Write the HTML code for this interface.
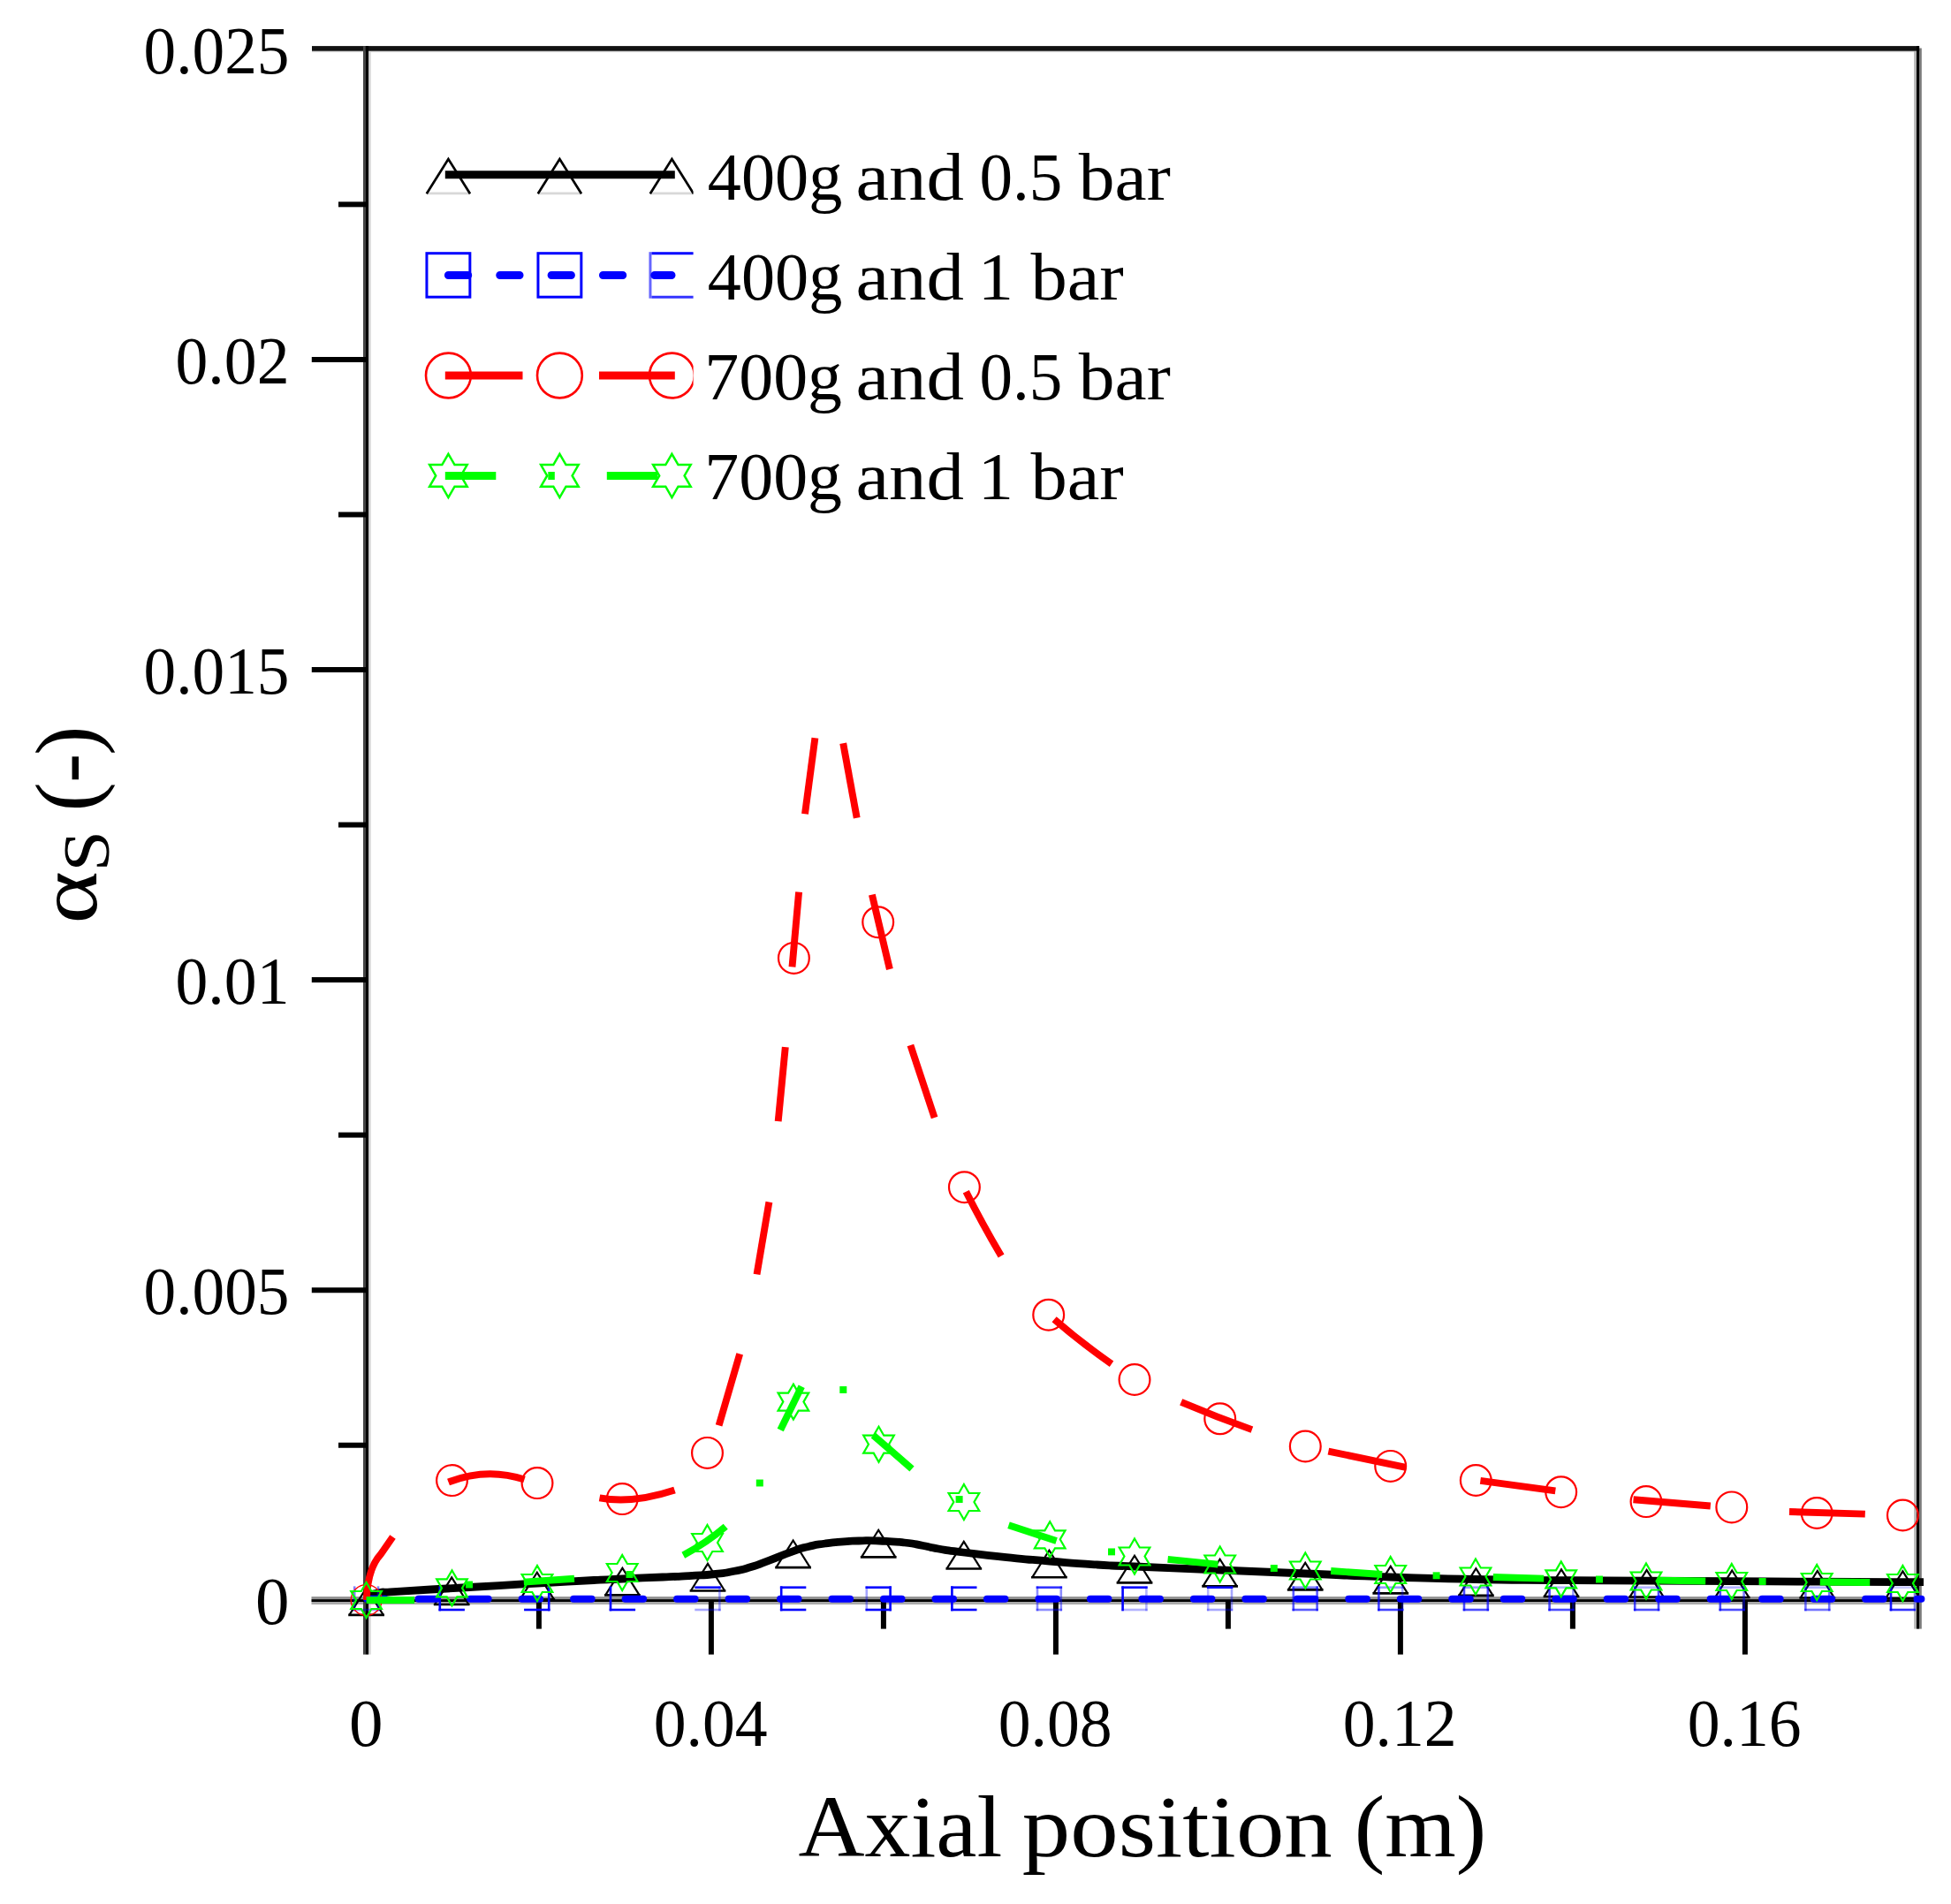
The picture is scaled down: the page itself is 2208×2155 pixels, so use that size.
<!DOCTYPE html>
<html lang="en"><head><meta charset="utf-8"><title>Solid volume fraction vs axial position</title>
<style>
html,body{margin:0;padding:0;background:#fff;}
body{width:2208px;height:2155px;overflow:hidden;}
svg{display:block;font-family:"Liberation Serif", "DejaVu Serif", serif;fill:#000;}
</style></head><body>
<svg width="2208" height="2155" viewBox="0 0 2208 2155">
<rect x="0" y="0" width="2208" height="2155" fill="#fff"/>
<rect x="417" y="52.2" width="2.7" height="1820.4" fill="#d4d4d4"/>
<rect x="353" y="57.4" width="1819" height="1.8" fill="#d8d8d8"/>
<rect x="2166.2" y="58" width="3" height="1785.6" fill="#b4b4b4"/>
<rect x="2171.8" y="54.5" width="3" height="1789.1" fill="#7a7a7a"/>
<rect x="352.5" y="1807.1" width="1819.5" height="3.1" fill="#909090"/>
<rect x="352.5" y="1812.9" width="1819.5" height="3.1" fill="#aaaaaa"/>
<rect x="353" y="52.1" width="1819.2" height="5.6" fill="#111"/>
<rect x="411" y="52.1" width="2.9" height="1820.5" fill="#444"/>
<rect x="413.8" y="52.1" width="3.3" height="1820.5" fill="#000"/>
<rect x="2169" y="52.1" width="3" height="1791.5" fill="#000"/>
<rect x="352.5" y="1810.1" width="1819.5" height="2.9" fill="#000"/>
<g stroke="#000" stroke-width="6" fill="none">
<line x1="383" y1="1635.75" x2="414.6" y2="1635.75"/>
<line x1="352.8" y1="1460.2" x2="414.6" y2="1460.2"/>
<line x1="383" y1="1284.65" x2="414.6" y2="1284.65"/>
<line x1="352.8" y1="1109.1" x2="414.6" y2="1109.1"/>
<line x1="383" y1="933.55" x2="414.6" y2="933.55"/>
<line x1="352.8" y1="758" x2="414.6" y2="758"/>
<line x1="383" y1="582.45" x2="414.6" y2="582.45"/>
<line x1="352.8" y1="406.9" x2="414.6" y2="406.9"/>
<line x1="383" y1="231.35" x2="414.6" y2="231.35"/>
<line x1="609.9" y1="1811" x2="609.9" y2="1843.6"/>
<line x1="804.9" y1="1811" x2="804.9" y2="1872.6"/>
<line x1="999.9" y1="1811" x2="999.9" y2="1843.6"/>
<line x1="1194.9" y1="1811" x2="1194.9" y2="1872.6"/>
<line x1="1389.9" y1="1811" x2="1389.9" y2="1843.6"/>
<line x1="1584.9" y1="1811" x2="1584.9" y2="1872.6"/>
<line x1="1779.9" y1="1811" x2="1779.9" y2="1843.6"/>
<line x1="1974.9" y1="1811" x2="1974.9" y2="1872.6"/>
</g>
<defs><clipPath id="lgclip"><rect x="470" y="150" width="314.6" height="450"/></clipPath></defs>
<g clip-path="url(#lgclip)">
<line x1="482.8" y1="218.8" x2="532" y2="218.8" stroke="#d8d8d8" stroke-width="2.7"/>
<polyline points="482.8,219.3 507.4,180.1 532,219.3" fill="none" stroke="#000" stroke-width="2.7" stroke-linejoin="miter" stroke-linecap="butt"/>
<line x1="608.8" y1="218.8" x2="658" y2="218.8" stroke="#d8d8d8" stroke-width="2.7"/>
<polyline points="608.8,219.3 633.4,180.1 658,219.3" fill="none" stroke="#000" stroke-width="2.7" stroke-linejoin="miter" stroke-linecap="butt"/>
<line x1="735.8" y1="218.8" x2="785" y2="218.8" stroke="#d8d8d8" stroke-width="2.7"/>
<polyline points="735.8,219.3 760.4,180.1 785,219.3" fill="none" stroke="#000" stroke-width="2.7" stroke-linejoin="miter" stroke-linecap="butt"/>
<line x1="503.8" y1="197.7" x2="763.8" y2="197.7" stroke="#000" stroke-width="9"/>
<rect x="482.95" y="286.7" width="48.9" height="49.5" fill="none" stroke="#0000ff" stroke-width="3"/>
<rect x="608.95" y="286.7" width="48.9" height="49.5" fill="none" stroke="#0000ff" stroke-width="3"/>
<line x1="735.95" y1="285.2" x2="735.95" y2="337.7" stroke="#0000ff" stroke-width="3" stroke-opacity="0.6"/>
<line x1="737.45" y1="286.7" x2="790" y2="286.7" stroke="#0000ff" stroke-width="3"/>
<line x1="737.45" y1="336.2" x2="790" y2="336.2" stroke="#0000ff" stroke-width="3" stroke-opacity="0.8"/>
<line x1="507.4" y1="311.5" x2="760.0" y2="311.5" stroke="#0000ff" stroke-width="9" stroke-dasharray="22.3 36.05" stroke-linecap="round"/>
<circle cx="507.4" cy="425" r="25.4" fill="none" stroke="#ff0000" stroke-width="2.6"/>
<circle cx="633.4" cy="425" r="25.4" fill="none" stroke="#ff0000" stroke-width="2.6"/>
<circle cx="760.4" cy="425" r="25.4" fill="none" stroke="#ff0000" stroke-width="2.6"/>
<line x1="503.8" y1="425" x2="763.8" y2="425" stroke="#ff0000" stroke-width="9" stroke-dasharray="87.7 86.5"/>
<polygon points="507.4,513.8 514.5,526.1 528.7,526.1 521.6,538.4 528.7,550.7 514.5,550.7 507.4,563 500.3,550.7 486.1,550.7 493.2,538.4 486.1,526.1 500.3,526.1" fill="none" stroke="#00ff00" stroke-width="2.5" stroke-linejoin="miter"/>
<polygon points="633.4,513.8 640.5,526.1 654.7,526.1 647.6,538.4 654.7,550.7 640.5,550.7 633.4,563 626.3,550.7 612.1,550.7 619.2,538.4 612.1,526.1 626.3,526.1" fill="none" stroke="#00ff00" stroke-width="2.5" stroke-linejoin="miter"/>
<polygon points="760.4,513.8 767.5,526.1 781.7,526.1 774.6,538.4 781.7,550.7 767.5,550.7 760.4,563 753.3,550.7 739.1,550.7 746.2,538.4 739.1,526.1 753.3,526.1" fill="none" stroke="#00ff00" stroke-width="2.5" stroke-linejoin="miter"/>
<line x1="503.8" y1="538.4" x2="763.8" y2="538.4" stroke="#00ff00" stroke-width="9" stroke-dasharray="57.5 59 7.5 59"/>
</g>
<text y="226.2" font-size="76"><tspan x="800.8" textLength="152.5" lengthAdjust="spacingAndGlyphs">400g</tspan> <tspan x="968.4" textLength="122.7" lengthAdjust="spacingAndGlyphs">and</tspan> <tspan x="1108.4" textLength="93.9" lengthAdjust="spacingAndGlyphs">0.5</tspan> <tspan x="1220.8" textLength="104" lengthAdjust="spacingAndGlyphs">bar</tspan></text>
<text y="338.7" font-size="76"><tspan x="800.8" textLength="152.5" lengthAdjust="spacingAndGlyphs">400g</tspan> <tspan x="968.4" textLength="122.7" lengthAdjust="spacingAndGlyphs">and</tspan> <tspan x="1106.8" textLength="40.3" lengthAdjust="spacingAndGlyphs">1</tspan> <tspan x="1166.4" textLength="105.4" lengthAdjust="spacingAndGlyphs">bar</tspan></text>
<text y="451.6" font-size="76"><tspan x="797.2" textLength="155.9" lengthAdjust="spacingAndGlyphs">700g</tspan> <tspan x="968.4" textLength="122.7" lengthAdjust="spacingAndGlyphs">and</tspan> <tspan x="1108.4" textLength="93.9" lengthAdjust="spacingAndGlyphs">0.5</tspan> <tspan x="1220.8" textLength="104" lengthAdjust="spacingAndGlyphs">bar</tspan></text>
<text y="564.6" font-size="76"><tspan x="797.2" textLength="155.9" lengthAdjust="spacingAndGlyphs">700g</tspan> <tspan x="968.4" textLength="122.7" lengthAdjust="spacingAndGlyphs">and</tspan> <tspan x="1106.8" textLength="40.3" lengthAdjust="spacingAndGlyphs">1</tspan> <tspan x="1166.4" textLength="105.4" lengthAdjust="spacingAndGlyphs">bar</tspan></text>
<path d="M414.6,1806 C420.07,1804.77 422.03,1803.7 431,1802.3 C439.97,1800.9 422.6,1802.9 441.5,1801.8 C460.4,1800.7 446.67,1801.4 487.7,1799 C528.73,1796.6 524.5,1796.93 564.6,1794.6 C604.7,1792.27 572.2,1794.03 608,1792 C643.8,1789.97 640,1790.17 672,1788.5 C704,1786.83 678,1788.17 704,1787 C730,1785.83 724.67,1786.13 750,1785 C775.33,1783.87 760,1784.77 780,1783.6 C800,1782.43 793,1783.3 810,1781.5 C827,1779.7 817.67,1780.87 831,1778.2 C844.33,1775.53 837,1777.47 850,1773.5 C863,1769.53 854,1772.27 870,1766.3 C886,1760.33 883,1760.87 898,1755.6 C913,1750.33 903,1753.37 915,1750.5 C927,1747.63 920.67,1748.9 934,1747 C947.33,1745.1 942.33,1745.8 955,1744.8 C967.67,1743.8 958.67,1744.27 972,1744 C985.33,1743.73 977.8,1743.33 995,1744 C1012.2,1744.67 1006.93,1744.17 1023.6,1746 C1040.27,1747.83 1032.2,1747.17 1045,1749.5 C1057.8,1751.83 1047,1750.5 1062,1753 C1077,1755.5 1064.33,1753.8 1090,1757 C1115.67,1760.2 1106.43,1759.27 1139,1762.6 C1171.57,1765.93 1153.53,1764.2 1187.7,1767 C1221.87,1769.8 1209.4,1769 1241.5,1771 C1273.6,1773 1237.6,1771 1284,1773 C1330.4,1775 1316.37,1774.33 1380.7,1777 C1445.03,1779.67 1412.67,1778.33 1477,1781 C1541.33,1783.67 1509.37,1782.83 1573.7,1785 C1638.03,1787.17 1605.57,1786.3 1670,1787.5 C1734.43,1788.7 1702.67,1788.03 1767,1788.6 C1831.33,1789.17 1798.67,1788.83 1863,1789.2 C1927.33,1789.57 1895.67,1789.37 1960,1789.7 C2024.33,1790.03 1983.67,1789.87 2056,1790.2 C2128.33,1790.53 2136.67,1790.53 2177,1790.7" fill="none" stroke="#000" stroke-width="8.8" stroke-linejoin="round"/>
<polyline points="395.41,1827.85 414.6,1797.27 433.79,1827.85" fill="none" stroke="#000" stroke-width="2.2" stroke-linejoin="miter" stroke-linecap="butt"/>
<line x1="394.21" y1="1827.85" x2="434.99" y2="1827.85" stroke="#000" stroke-width="2.6"/>
<polyline points="492.01,1816 511.2,1785.43 530.39,1816" fill="none" stroke="#000" stroke-width="2.2" stroke-linejoin="miter" stroke-linecap="butt"/>
<line x1="490.81" y1="1816" x2="531.59" y2="1816" stroke="#000" stroke-width="2.6"/>
<polyline points="588.61,1810.36 607.8,1779.78 626.99,1810.36" fill="none" stroke="#000" stroke-width="2.2" stroke-linejoin="miter" stroke-linecap="butt"/>
<line x1="587.41" y1="1810.36" x2="628.19" y2="1810.36" stroke="#000" stroke-width="2.6"/>
<polyline points="685.21,1805.33 704.4,1774.75 723.59,1805.33" fill="none" stroke="#000" stroke-width="2.2" stroke-linejoin="miter" stroke-linecap="butt"/>
<line x1="684.01" y1="1805.33" x2="724.79" y2="1805.33" stroke="#000" stroke-width="2.6"/>
<polyline points="781.81,1800.48 801,1769.9 820.19,1800.48" fill="none" stroke="#000" stroke-width="2.2" stroke-linejoin="miter" stroke-linecap="butt"/>
<line x1="780.61" y1="1800.48" x2="821.39" y2="1800.48" stroke="#000" stroke-width="2.6"/>
<polyline points="878.41,1774.1 897.6,1743.52 916.79,1774.1" fill="none" stroke="#000" stroke-width="2.2" stroke-linejoin="miter" stroke-linecap="butt"/>
<line x1="877.21" y1="1774.1" x2="917.99" y2="1774.1" stroke="#000" stroke-width="2.6"/>
<polyline points="975.01,1762.35 994.2,1731.77 1013.39,1762.35" fill="none" stroke="#000" stroke-width="2.2" stroke-linejoin="miter" stroke-linecap="butt"/>
<line x1="973.81" y1="1762.35" x2="1014.59" y2="1762.35" stroke="#000" stroke-width="2.6"/>
<polyline points="1071.61,1775.44 1090.8,1744.86 1109.99,1775.44" fill="none" stroke="#000" stroke-width="2.2" stroke-linejoin="miter" stroke-linecap="butt"/>
<line x1="1070.41" y1="1775.44" x2="1111.19" y2="1775.44" stroke="#000" stroke-width="2.6"/>
<polyline points="1168.21,1785.32 1187.4,1754.74 1206.59,1785.32" fill="none" stroke="#000" stroke-width="2.2" stroke-linejoin="miter" stroke-linecap="butt"/>
<line x1="1167.01" y1="1785.32" x2="1207.79" y2="1785.32" stroke="#000" stroke-width="2.6"/>
<polyline points="1264.81,1791.35 1284,1760.77 1303.19,1791.35" fill="none" stroke="#000" stroke-width="2.2" stroke-linejoin="miter" stroke-linecap="butt"/>
<line x1="1263.61" y1="1791.35" x2="1304.39" y2="1791.35" stroke="#000" stroke-width="2.6"/>
<polyline points="1361.41,1795.34 1380.6,1764.77 1399.79,1795.34" fill="none" stroke="#000" stroke-width="2.2" stroke-linejoin="miter" stroke-linecap="butt"/>
<line x1="1360.21" y1="1795.34" x2="1400.99" y2="1795.34" stroke="#000" stroke-width="2.6"/>
<polyline points="1458.01,1799.36 1477.2,1768.78 1496.39,1799.36" fill="none" stroke="#000" stroke-width="2.2" stroke-linejoin="miter" stroke-linecap="butt"/>
<line x1="1456.81" y1="1799.36" x2="1497.59" y2="1799.36" stroke="#000" stroke-width="2.6"/>
<polyline points="1554.61,1803.35 1573.8,1772.77 1592.99,1803.35" fill="none" stroke="#000" stroke-width="2.2" stroke-linejoin="miter" stroke-linecap="butt"/>
<line x1="1553.41" y1="1803.35" x2="1594.19" y2="1803.35" stroke="#000" stroke-width="2.6"/>
<polyline points="1651.21,1805.85 1670.4,1775.28 1689.59,1805.85" fill="none" stroke="#000" stroke-width="2.2" stroke-linejoin="miter" stroke-linecap="butt"/>
<line x1="1650.01" y1="1805.85" x2="1690.79" y2="1805.85" stroke="#000" stroke-width="2.6"/>
<polyline points="1747.81,1806.95 1767,1776.37 1786.19,1806.95" fill="none" stroke="#000" stroke-width="2.2" stroke-linejoin="miter" stroke-linecap="butt"/>
<line x1="1746.61" y1="1806.95" x2="1787.39" y2="1806.95" stroke="#000" stroke-width="2.6"/>
<polyline points="1844.41,1807.55 1863.6,1776.98 1882.79,1807.55" fill="none" stroke="#000" stroke-width="2.2" stroke-linejoin="miter" stroke-linecap="butt"/>
<line x1="1843.21" y1="1807.55" x2="1883.99" y2="1807.55" stroke="#000" stroke-width="2.6"/>
<polyline points="1941.01,1808.05 1960.2,1777.47 1979.39,1808.05" fill="none" stroke="#000" stroke-width="2.2" stroke-linejoin="miter" stroke-linecap="butt"/>
<line x1="1939.81" y1="1808.05" x2="1980.59" y2="1808.05" stroke="#000" stroke-width="2.6"/>
<polyline points="2037.61,1808.55 2056.8,1777.98 2075.99,1808.55" fill="none" stroke="#000" stroke-width="2.2" stroke-linejoin="miter" stroke-linecap="butt"/>
<line x1="2036.41" y1="1808.55" x2="2077.19" y2="1808.55" stroke="#000" stroke-width="2.6"/>
<polyline points="2134.21,1808.95 2153.4,1778.37 2172.59,1808.95" fill="none" stroke="#000" stroke-width="2.2" stroke-linejoin="miter" stroke-linecap="butt"/>
<line x1="2133.01" y1="1808.95" x2="2173.79" y2="1808.95" stroke="#000" stroke-width="2.6"/>
<line x1="415.2" y1="1809.8" x2="2174.4" y2="1809.8" stroke="#0000ff" stroke-width="8" stroke-dasharray="20.5 37.98" stroke-linecap="round"/>
<line x1="401.2" y1="1796.7" x2="401.2" y2="1822" stroke="#0000ff" stroke-width="2.6" stroke-opacity="0.5" stroke-linecap="square"/>
<line x1="428" y1="1796.7" x2="428" y2="1822" stroke="#0000ff" stroke-width="2.6" stroke-opacity="0.5" stroke-linecap="square"/>
<line x1="401.2" y1="1822" x2="428" y2="1822" stroke="#0000ff" stroke-width="2.6" stroke-opacity="0.4" stroke-linecap="square"/>
<line x1="497.8" y1="1796.7" x2="497.8" y2="1822" stroke="#0000ff" stroke-width="2.6" stroke-opacity="1" stroke-linecap="square"/>
<line x1="497.8" y1="1822" x2="524.6" y2="1822" stroke="#0000ff" stroke-width="2.6" stroke-opacity="1" stroke-linecap="square"/>
<line x1="621.2" y1="1796.7" x2="621.2" y2="1822" stroke="#0000ff" stroke-width="2.6" stroke-opacity="1" stroke-linecap="square"/>
<line x1="594.4" y1="1822" x2="621.2" y2="1822" stroke="#0000ff" stroke-width="2.6" stroke-opacity="1" stroke-linecap="square"/>
<line x1="691" y1="1796.7" x2="691" y2="1822" stroke="#0000ff" stroke-width="2.6" stroke-opacity="1" stroke-linecap="square"/>
<line x1="691" y1="1822" x2="717.8" y2="1822" stroke="#0000ff" stroke-width="2.6" stroke-opacity="1" stroke-linecap="square"/>
<line x1="787.6" y1="1796.7" x2="814.4" y2="1796.7" stroke="#0000ff" stroke-width="2.6" stroke-opacity="1" stroke-linecap="square"/>
<line x1="814.4" y1="1796.7" x2="814.4" y2="1822" stroke="#0000ff" stroke-width="2.6" stroke-opacity="0.35" stroke-linecap="square"/>
<line x1="787.6" y1="1822" x2="814.4" y2="1822" stroke="#0000ff" stroke-width="2.6" stroke-opacity="0.35" stroke-linecap="square"/>
<line x1="884.2" y1="1796.7" x2="884.2" y2="1822" stroke="#0000ff" stroke-width="2.6" stroke-opacity="1" stroke-linecap="square"/>
<line x1="884.2" y1="1796.7" x2="911" y2="1796.7" stroke="#0000ff" stroke-width="2.6" stroke-opacity="1" stroke-linecap="square"/>
<line x1="884.2" y1="1822" x2="911" y2="1822" stroke="#0000ff" stroke-width="2.6" stroke-opacity="1" stroke-linecap="square"/>
<line x1="980.8" y1="1796.7" x2="980.8" y2="1822" stroke="#0000ff" stroke-width="2.6" stroke-opacity="0.35" stroke-linecap="square"/>
<line x1="980.8" y1="1796.7" x2="1007.6" y2="1796.7" stroke="#0000ff" stroke-width="2.6" stroke-opacity="1" stroke-linecap="square"/>
<line x1="1007.6" y1="1796.7" x2="1007.6" y2="1822" stroke="#0000ff" stroke-width="2.6" stroke-opacity="1" stroke-linecap="square"/>
<line x1="980.8" y1="1822" x2="1007.6" y2="1822" stroke="#0000ff" stroke-width="2.6" stroke-opacity="1" stroke-linecap="square"/>
<line x1="1077.4" y1="1796.7" x2="1077.4" y2="1822" stroke="#0000ff" stroke-width="2.6" stroke-opacity="1" stroke-linecap="square"/>
<line x1="1077.4" y1="1796.7" x2="1104.2" y2="1796.7" stroke="#0000ff" stroke-width="2.6" stroke-opacity="1" stroke-linecap="square"/>
<line x1="1077.4" y1="1822" x2="1104.2" y2="1822" stroke="#0000ff" stroke-width="2.6" stroke-opacity="1" stroke-linecap="square"/>
<line x1="1174" y1="1796.7" x2="1174" y2="1822" stroke="#0000ff" stroke-width="2.6" stroke-opacity="0.45" stroke-linecap="square"/>
<line x1="1174" y1="1796.7" x2="1200.8" y2="1796.7" stroke="#0000ff" stroke-width="2.6" stroke-opacity="0.8" stroke-linecap="square"/>
<line x1="1200.8" y1="1796.7" x2="1200.8" y2="1822" stroke="#0000ff" stroke-width="2.6" stroke-opacity="0.45" stroke-linecap="square"/>
<line x1="1174" y1="1822" x2="1200.8" y2="1822" stroke="#0000ff" stroke-width="2.6" stroke-opacity="0.45" stroke-linecap="square"/>
<line x1="1270.6" y1="1796.7" x2="1270.6" y2="1822" stroke="#0000ff" stroke-width="2.6" stroke-opacity="1" stroke-linecap="square"/>
<line x1="1270.6" y1="1796.7" x2="1297.4" y2="1796.7" stroke="#0000ff" stroke-width="2.6" stroke-opacity="1" stroke-linecap="square"/>
<line x1="1297.4" y1="1796.7" x2="1297.4" y2="1822" stroke="#0000ff" stroke-width="2.6" stroke-opacity="0.3" stroke-linecap="square"/>
<line x1="1270.6" y1="1822" x2="1297.4" y2="1822" stroke="#0000ff" stroke-width="2.6" stroke-opacity="0.3" stroke-linecap="square"/>
<line x1="1367.2" y1="1796.7" x2="1367.2" y2="1822" stroke="#0000ff" stroke-width="2.6" stroke-opacity="0.3" stroke-linecap="square"/>
<line x1="1367.2" y1="1796.7" x2="1394" y2="1796.7" stroke="#0000ff" stroke-width="2.6" stroke-opacity="1" stroke-linecap="square"/>
<line x1="1394" y1="1796.7" x2="1394" y2="1822" stroke="#0000ff" stroke-width="2.6" stroke-opacity="0.35" stroke-linecap="square"/>
<line x1="1367.2" y1="1822" x2="1394" y2="1822" stroke="#0000ff" stroke-width="2.6" stroke-opacity="0.35" stroke-linecap="square"/>
<line x1="1463.8" y1="1796.7" x2="1463.8" y2="1822" stroke="#0000ff" stroke-width="2.6" stroke-opacity="0.65" stroke-linecap="square"/>
<line x1="1463.8" y1="1796.7" x2="1490.6" y2="1796.7" stroke="#0000ff" stroke-width="2.6" stroke-opacity="0.5" stroke-linecap="square"/>
<line x1="1490.6" y1="1796.7" x2="1490.6" y2="1822" stroke="#0000ff" stroke-width="2.6" stroke-opacity="0.65" stroke-linecap="square"/>
<line x1="1463.8" y1="1822" x2="1490.6" y2="1822" stroke="#0000ff" stroke-width="2.6" stroke-opacity="0.65" stroke-linecap="square"/>
<line x1="1560.4" y1="1796.7" x2="1560.4" y2="1822" stroke="#0000ff" stroke-width="2.6" stroke-opacity="0.75" stroke-linecap="square"/>
<line x1="1560.4" y1="1796.7" x2="1587.2" y2="1796.7" stroke="#0000ff" stroke-width="2.6" stroke-opacity="0.4" stroke-linecap="square"/>
<line x1="1587.2" y1="1796.7" x2="1587.2" y2="1822" stroke="#0000ff" stroke-width="2.6" stroke-opacity="0.35" stroke-linecap="square"/>
<line x1="1560.4" y1="1822" x2="1587.2" y2="1822" stroke="#0000ff" stroke-width="2.6" stroke-opacity="0.75" stroke-linecap="square"/>
<line x1="1657" y1="1796.7" x2="1657" y2="1822" stroke="#0000ff" stroke-width="2.6" stroke-opacity="0.7" stroke-linecap="square"/>
<line x1="1657" y1="1796.7" x2="1683.8" y2="1796.7" stroke="#0000ff" stroke-width="2.6" stroke-opacity="0.4" stroke-linecap="square"/>
<line x1="1683.8" y1="1796.7" x2="1683.8" y2="1822" stroke="#0000ff" stroke-width="2.6" stroke-opacity="0.7" stroke-linecap="square"/>
<line x1="1657" y1="1822" x2="1683.8" y2="1822" stroke="#0000ff" stroke-width="2.6" stroke-opacity="0.7" stroke-linecap="square"/>
<line x1="1753.6" y1="1796.7" x2="1753.6" y2="1822" stroke="#0000ff" stroke-width="2.6" stroke-opacity="0.7" stroke-linecap="square"/>
<line x1="1753.6" y1="1796.7" x2="1780.4" y2="1796.7" stroke="#0000ff" stroke-width="2.6" stroke-opacity="0.3" stroke-linecap="square"/>
<line x1="1780.4" y1="1796.7" x2="1780.4" y2="1822" stroke="#0000ff" stroke-width="2.6" stroke-opacity="0.4" stroke-linecap="square"/>
<line x1="1753.6" y1="1822" x2="1780.4" y2="1822" stroke="#0000ff" stroke-width="2.6" stroke-opacity="0.7" stroke-linecap="square"/>
<line x1="1850.2" y1="1796.7" x2="1850.2" y2="1822" stroke="#0000ff" stroke-width="2.6" stroke-opacity="0.7" stroke-linecap="square"/>
<line x1="1850.2" y1="1796.7" x2="1877" y2="1796.7" stroke="#0000ff" stroke-width="2.6" stroke-opacity="0.3" stroke-linecap="square"/>
<line x1="1877" y1="1796.7" x2="1877" y2="1822" stroke="#0000ff" stroke-width="2.6" stroke-opacity="0.7" stroke-linecap="square"/>
<line x1="1850.2" y1="1822" x2="1877" y2="1822" stroke="#0000ff" stroke-width="2.6" stroke-opacity="0.7" stroke-linecap="square"/>
<line x1="1946.8" y1="1796.7" x2="1946.8" y2="1822" stroke="#0000ff" stroke-width="2.6" stroke-opacity="0.7" stroke-linecap="square"/>
<line x1="1946.8" y1="1796.7" x2="1973.6" y2="1796.7" stroke="#0000ff" stroke-width="2.6" stroke-opacity="0.3" stroke-linecap="square"/>
<line x1="1973.6" y1="1796.7" x2="1973.6" y2="1822" stroke="#0000ff" stroke-width="2.6" stroke-opacity="0.5" stroke-linecap="square"/>
<line x1="1946.8" y1="1822" x2="1973.6" y2="1822" stroke="#0000ff" stroke-width="2.6" stroke-opacity="0.7" stroke-linecap="square"/>
<line x1="2043.4" y1="1796.7" x2="2043.4" y2="1822" stroke="#0000ff" stroke-width="2.6" stroke-opacity="0.55" stroke-linecap="square"/>
<line x1="2043.4" y1="1796.7" x2="2070.2" y2="1796.7" stroke="#0000ff" stroke-width="2.6" stroke-opacity="0.3" stroke-linecap="square"/>
<line x1="2070.2" y1="1796.7" x2="2070.2" y2="1822" stroke="#0000ff" stroke-width="2.6" stroke-opacity="0.55" stroke-linecap="square"/>
<line x1="2043.4" y1="1822" x2="2070.2" y2="1822" stroke="#0000ff" stroke-width="2.6" stroke-opacity="0.55" stroke-linecap="square"/>
<line x1="2140" y1="1796.7" x2="2140" y2="1822" stroke="#0000ff" stroke-width="2.6" stroke-opacity="0.9" stroke-linecap="square"/>
<line x1="2140" y1="1796.7" x2="2166.8" y2="1796.7" stroke="#0000ff" stroke-width="2.6" stroke-opacity="0.2" stroke-linecap="square"/>
<line x1="2166.8" y1="1796.7" x2="2166.8" y2="1822" stroke="#0000ff" stroke-width="2.6" stroke-opacity="0.3" stroke-linecap="square"/>
<line x1="2140" y1="1822" x2="2166.8" y2="1822" stroke="#0000ff" stroke-width="2.6" stroke-opacity="0.8" stroke-linecap="square"/>
<g fill="none" stroke="#ff0000" stroke-width="7.9" stroke-linecap="butt">
<path d="M414.8,1811 C415.5,1790 419,1772 431,1759 L444.5,1739.5"/>
<path d="M507.5,1677.5 Q551,1660.5 593.5,1674.6"/>
<path d="M678.5,1695.4 Q716,1702.4 763.5,1686.6"/>
<path d="M813.6,1613.4 L837.2,1532.4"/>
<path d="M856.5,1442.3 L870.4,1360.5"/>
<path d="M880.7,1269.2 L888.8,1185.2"/>
<path d="M896.5,1094.3 L904.1,1009.7"/>
<path d="M911,921.2 L922.4,835.2"/>
<path d="M954.2,841.2 L969.7,925.8"/>
<path d="M986.9,1012.7 L1006.9,1097"/>
<path d="M1030.4,1183.1 L1057.6,1265.1"/>
<path d="M1093.3,1348.7 Q1111,1384 1133.1,1421.5"/>
<path d="M1193.1,1493.2 Q1224,1520 1258,1543.7"/>
<path d="M1336.7,1586.9 Q1377,1604 1416.9,1618.1"/>
<path d="M1503.4,1642.6 L1591.1,1660.8"/>
<path d="M1675.4,1675.9 L1760.3,1687.3"/>
<path d="M1848.5,1697.3 L1935.8,1704.5"/>
<path d="M2025,1711 L2110.8,1713.6"/>
</g>
<circle cx="414.6" cy="1811" r="17.4" fill="none" stroke="#ff0000" stroke-width="1.4"/>
<circle cx="511.5" cy="1675.6" r="17.4" fill="none" stroke="#ff0000" stroke-width="2.2"/>
<circle cx="608" cy="1678.6" r="17.4" fill="none" stroke="#ff0000" stroke-width="2.2"/>
<circle cx="704.2" cy="1696.6" r="17.4" fill="none" stroke="#ff0000" stroke-width="2.2"/>
<circle cx="800.5" cy="1644.4" r="17.4" fill="none" stroke="#ff0000" stroke-width="2.2"/>
<circle cx="898.4" cy="1084.4" r="17.4" fill="none" stroke="#ff0000" stroke-width="2.2"/>
<circle cx="993.7" cy="1043.7" r="17.4" fill="none" stroke="#ff0000" stroke-width="2.2"/>
<circle cx="1091.4" cy="1343.7" r="17.4" fill="none" stroke="#ff0000" stroke-width="2.2"/>
<circle cx="1186.7" cy="1488.2" r="17.4" fill="none" stroke="#ff0000" stroke-width="2.2"/>
<circle cx="1284" cy="1561.5" r="17.4" fill="none" stroke="#ff0000" stroke-width="2.2"/>
<circle cx="1380.7" cy="1605.8" r="17.4" fill="none" stroke="#ff0000" stroke-width="2.2"/>
<circle cx="1477.3" cy="1637" r="17.4" fill="none" stroke="#ff0000" stroke-width="2.2"/>
<circle cx="1573.7" cy="1659.4" r="17.4" fill="none" stroke="#ff0000" stroke-width="2.2"/>
<circle cx="1670.3" cy="1675.5" r="17.4" fill="none" stroke="#ff0000" stroke-width="2.2"/>
<circle cx="1766.7" cy="1688.7" r="17.4" fill="none" stroke="#ff0000" stroke-width="2.2"/>
<circle cx="1863" cy="1699.6" r="17.4" fill="none" stroke="#ff0000" stroke-width="2.2"/>
<circle cx="1959.8" cy="1705.9" r="17.4" fill="none" stroke="#ff0000" stroke-width="2.2"/>
<circle cx="2056.2" cy="1712.5" r="17.4" fill="none" stroke="#ff0000" stroke-width="2.2"/>
<circle cx="2153.4" cy="1715" r="17.4" fill="none" stroke="#ff0000" stroke-width="2.2"/>
<g fill="none" stroke="#00ff00" stroke-width="7.9" stroke-linecap="butt">
<path d="M414.6,1811 L469,1811"/>
<path d="M592.8,1790.6 L650,1786.8"/>
<path d="M773.3,1760.3 Q800,1746 821.2,1727.8"/>
<path d="M883.2,1618.4 L907.2,1569.2"/>
<path d="M988.3,1624.4 L1032,1662.5"/>
<path d="M1141.5,1726.3 L1195.6,1744"/>
<path d="M1321.6,1764.9 L1378.5,1770.6"/>
<path d="M1506.2,1778 L1564.2,1782"/>
<path d="M1689.8,1785 L1747.2,1786.6"/>
<path d="M1875.8,1788.6 L1930.2,1789.5"/>
<path d="M2059.8,1790.5 L2116.2,1791"/>
</g>
<rect x="527" y="1789.55" width="8" height="7.9" fill="#00ff00" transform="rotate(0 531 1793.5)"/>
<rect x="708.5" y="1778.05" width="8" height="7.9" fill="#00ff00" transform="rotate(0 712.5 1782)"/>
<rect x="855.8" y="1674.55" width="8" height="7.9" fill="#00ff00" transform="rotate(0 859.8 1678.5)"/>
<rect x="950.3" y="1569.05" width="8" height="7.9" fill="#00ff00" transform="rotate(0 954.3 1573)"/>
<rect x="1081.6" y="1693.05" width="8" height="7.9" fill="#00ff00" transform="rotate(0 1085.6 1697)"/>
<rect x="1254" y="1752.45" width="8" height="7.9" fill="#00ff00" transform="rotate(0 1258 1756.4)"/>
<rect x="1437.8" y="1771.05" width="8" height="7.9" fill="#00ff00" transform="rotate(0 1441.8 1775)"/>
<rect x="1621.6" y="1779.35" width="8" height="7.9" fill="#00ff00" transform="rotate(0 1625.6 1783.3)"/>
<rect x="1806" y="1783.55" width="8" height="7.9" fill="#00ff00" transform="rotate(0 1810 1787.5)"/>
<rect x="1990.6" y="1786.05" width="8" height="7.9" fill="#00ff00" transform="rotate(0 1994.6 1790)"/>
<polygon points="414.6,1791 420.37,1801 431.92,1801 426.15,1811 431.92,1821 420.37,1821 414.6,1831 408.83,1821 397.28,1821 403.05,1811 397.28,1801 408.83,1801" fill="none" stroke="#00ff00" stroke-width="2.2" stroke-linejoin="miter"/>
<polygon points="511.5,1777.4 517.27,1787.4 528.82,1787.4 523.05,1797.4 528.82,1807.4 517.27,1807.4 511.5,1817.4 505.73,1807.4 494.18,1807.4 499.95,1797.4 494.18,1787.4 505.73,1787.4" fill="none" stroke="#00ff00" stroke-width="2.2" stroke-linejoin="miter"/>
<polygon points="608,1772 613.77,1782 625.32,1782 619.55,1792 625.32,1802 613.77,1802 608,1812 602.23,1802 590.68,1802 596.45,1792 590.68,1782 602.23,1782" fill="none" stroke="#00ff00" stroke-width="2.2" stroke-linejoin="miter"/>
<polygon points="704.2,1760 709.97,1770 721.52,1770 715.75,1780 721.52,1790 709.97,1790 704.2,1800 698.43,1790 686.88,1790 692.65,1780 686.88,1770 698.43,1770" fill="none" stroke="#00ff00" stroke-width="2.2" stroke-linejoin="miter"/>
<polygon points="800.5,1726 806.27,1736 817.82,1736 812.05,1746 817.82,1756 806.27,1756 800.5,1766 794.73,1756 783.18,1756 788.95,1746 783.18,1736 794.73,1736" fill="none" stroke="#00ff00" stroke-width="2.2" stroke-linejoin="miter"/>
<polygon points="897.9,1566.6 903.67,1576.6 915.22,1576.6 909.45,1586.6 915.22,1596.6 903.67,1596.6 897.9,1606.6 892.13,1596.6 880.58,1596.6 886.35,1586.6 880.58,1576.6 892.13,1576.6" fill="none" stroke="#00ff00" stroke-width="2.2" stroke-linejoin="miter"/>
<polygon points="994.5,1614.7 1000.27,1624.7 1011.82,1624.7 1006.05,1634.7 1011.82,1644.7 1000.27,1644.7 994.5,1654.7 988.73,1644.7 977.18,1644.7 982.95,1634.7 977.18,1624.7 988.73,1624.7" fill="none" stroke="#00ff00" stroke-width="2.2" stroke-linejoin="miter"/>
<polygon points="1090.9,1680 1096.67,1690 1108.22,1690 1102.45,1700 1108.22,1710 1096.67,1710 1090.9,1720 1085.13,1710 1073.58,1710 1079.35,1700 1073.58,1690 1085.13,1690" fill="none" stroke="#00ff00" stroke-width="2.2" stroke-linejoin="miter"/>
<polygon points="1188.2,1722.3 1193.97,1732.3 1205.52,1732.3 1199.75,1742.3 1205.52,1752.3 1193.97,1752.3 1188.2,1762.3 1182.43,1752.3 1170.88,1752.3 1176.65,1742.3 1170.88,1732.3 1182.43,1732.3" fill="none" stroke="#00ff00" stroke-width="2.2" stroke-linejoin="miter"/>
<polygon points="1284,1741.5 1289.77,1751.5 1301.32,1751.5 1295.55,1761.5 1301.32,1771.5 1289.77,1771.5 1284,1781.5 1278.23,1771.5 1266.68,1771.5 1272.45,1761.5 1266.68,1751.5 1278.23,1751.5" fill="none" stroke="#00ff00" stroke-width="2.2" stroke-linejoin="miter"/>
<polygon points="1380.7,1750.5 1386.47,1760.5 1398.02,1760.5 1392.25,1770.5 1398.02,1780.5 1386.47,1780.5 1380.7,1790.5 1374.93,1780.5 1363.38,1780.5 1369.15,1770.5 1363.38,1760.5 1374.93,1760.5" fill="none" stroke="#00ff00" stroke-width="2.2" stroke-linejoin="miter"/>
<polygon points="1477.3,1757.5 1483.07,1767.5 1494.62,1767.5 1488.85,1777.5 1494.62,1787.5 1483.07,1787.5 1477.3,1797.5 1471.53,1787.5 1459.98,1787.5 1465.75,1777.5 1459.98,1767.5 1471.53,1767.5" fill="none" stroke="#00ff00" stroke-width="2.2" stroke-linejoin="miter"/>
<polygon points="1573.7,1762 1579.47,1772 1591.02,1772 1585.25,1782 1591.02,1792 1579.47,1792 1573.7,1802 1567.93,1792 1556.38,1792 1562.15,1782 1556.38,1772 1567.93,1772" fill="none" stroke="#00ff00" stroke-width="2.2" stroke-linejoin="miter"/>
<polygon points="1670,1764.5 1675.77,1774.5 1687.32,1774.5 1681.55,1784.5 1687.32,1794.5 1675.77,1794.5 1670,1804.5 1664.23,1794.5 1652.68,1794.5 1658.45,1784.5 1652.68,1774.5 1664.23,1774.5" fill="none" stroke="#00ff00" stroke-width="2.2" stroke-linejoin="miter"/>
<polygon points="1766.7,1767.4 1772.47,1777.4 1784.02,1777.4 1778.25,1787.4 1784.02,1797.4 1772.47,1797.4 1766.7,1807.4 1760.93,1797.4 1749.38,1797.4 1755.15,1787.4 1749.38,1777.4 1760.93,1777.4" fill="none" stroke="#00ff00" stroke-width="2.2" stroke-linejoin="miter"/>
<polygon points="1863,1769.5 1868.77,1779.5 1880.32,1779.5 1874.55,1789.5 1880.32,1799.5 1868.77,1799.5 1863,1809.5 1857.23,1799.5 1845.68,1799.5 1851.45,1789.5 1845.68,1779.5 1857.23,1779.5" fill="none" stroke="#00ff00" stroke-width="2.2" stroke-linejoin="miter"/>
<polygon points="1959.8,1770 1965.57,1780 1977.12,1780 1971.35,1790 1977.12,1800 1965.57,1800 1959.8,1810 1954.03,1800 1942.48,1800 1948.25,1790 1942.48,1780 1954.03,1780" fill="none" stroke="#00ff00" stroke-width="2.2" stroke-linejoin="miter"/>
<polygon points="2056.2,1771 2061.97,1781 2073.52,1781 2067.75,1791 2073.52,1801 2061.97,1801 2056.2,1811 2050.43,1801 2038.88,1801 2044.65,1791 2038.88,1781 2050.43,1781" fill="none" stroke="#00ff00" stroke-width="2.2" stroke-linejoin="miter"/>
<polygon points="2153.4,1772 2159.17,1782 2170.72,1782 2164.95,1792 2170.72,1802 2159.17,1802 2153.4,1812 2147.63,1802 2136.08,1802 2141.85,1792 2136.08,1782 2147.63,1782" fill="none" stroke="#00ff00" stroke-width="2.2" stroke-linejoin="miter"/>
<text x="162.5" y="82.8" font-size="77" text-anchor="start" textLength="165" lengthAdjust="spacingAndGlyphs">0.025</text>
<text x="198.5" y="433.9" font-size="77" text-anchor="start" textLength="129" lengthAdjust="spacingAndGlyphs">0.02</text>
<text x="162.5" y="785" font-size="77" text-anchor="start" textLength="165" lengthAdjust="spacingAndGlyphs">0.015</text>
<text x="198.5" y="1136.1" font-size="77" text-anchor="start" textLength="129" lengthAdjust="spacingAndGlyphs">0.01</text>
<text x="162.5" y="1487.2" font-size="77" text-anchor="start" textLength="165" lengthAdjust="spacingAndGlyphs">0.005</text>
<text x="289" y="1838.3" font-size="77" text-anchor="start" textLength="38.5" lengthAdjust="spacingAndGlyphs">0</text>
<text x="394.9" y="1976" font-size="77" text-anchor="start" textLength="38.5" lengthAdjust="spacingAndGlyphs">0</text>
<text x="739.65" y="1976" font-size="77" text-anchor="start" textLength="129" lengthAdjust="spacingAndGlyphs">0.04</text>
<text x="1129.65" y="1976" font-size="77" text-anchor="start" textLength="129" lengthAdjust="spacingAndGlyphs">0.08</text>
<text x="1519.65" y="1976" font-size="77" text-anchor="start" textLength="129" lengthAdjust="spacingAndGlyphs">0.12</text>
<text x="1909.65" y="1976" font-size="77" text-anchor="start" textLength="129" lengthAdjust="spacingAndGlyphs">0.16</text>
<text y="2101.2" font-size="100"><tspan x="903.5" textLength="230.8" lengthAdjust="spacingAndGlyphs">Axial</tspan> <tspan x="1156.8" textLength="351" lengthAdjust="spacingAndGlyphs">position</tspan> <tspan x="1532.7" textLength="149.5" lengthAdjust="spacingAndGlyphs">(m)</tspan></text>
<g transform="translate(108.5,1043) rotate(-90)">
<text x="0" y="0" font-size="95"><tspan x="-2.5" textLength="59.5" lengthAdjust="spacingAndGlyphs">α</tspan><tspan x="56.5" y="14" font-size="73" textLength="46.5" lengthAdjust="spacingAndGlyphs">S</tspan><tspan x="103" y="0" font-size="100"> </tspan><tspan x="124.5" y="0" font-size="100">(</tspan><tspan x="157" y="0" font-size="100">-</tspan><tspan x="188" y="0" font-size="100">)</tspan></text>
</g>
</svg>
</body></html>
